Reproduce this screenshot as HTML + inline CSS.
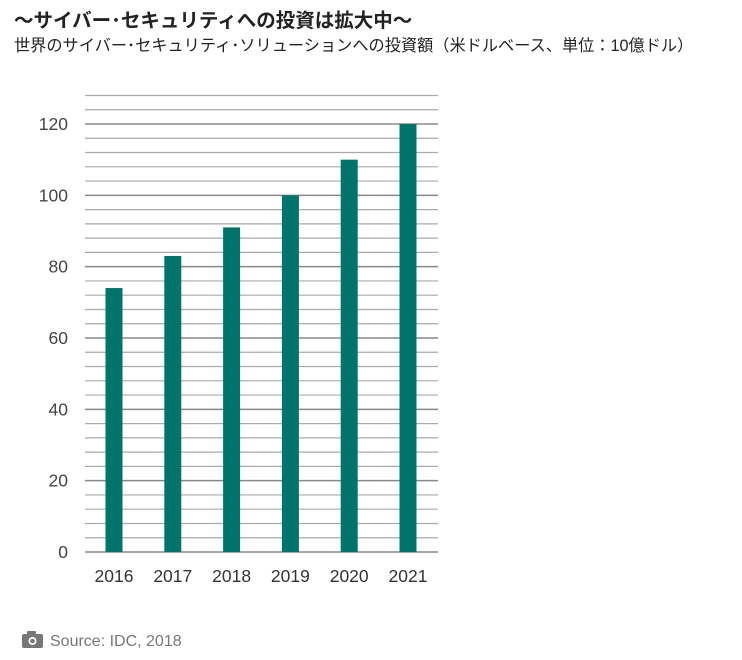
<!DOCTYPE html>
<html><head><meta charset="utf-8">
<style>
body{margin:0;width:742px;height:660px;background:#fff;overflow:hidden;font-family:"Liberation Sans","Noto Sans CJK JP",sans-serif;}
.t1{position:absolute;left:14px;top:4px;font-size:19.5px;font-weight:bold;color:#222;}
.t2{position:absolute;left:14px;top:32px;font-size:16.2px;color:#222;}
.src{position:absolute;left:22px;top:631px;font-size:16px;color:#777;}
</style></head><body>
<div class="t1">～サイバー･セキュリティへの投資は拡大中～</div>
<div class="t2">世界のサイバー･セキュリティ･ソリューションへの投資額（米ドルベース、単位：10億ドル）</div>
<svg id="c" width="742" height="660" style="position:absolute;left:0;top:0"></svg>
<div class="src"><svg width="22" height="17" style="vertical-align:-2px;margin-right:6px"><rect x="0" y="3" width="21" height="14" rx="2" fill="#777"/><rect x="5" y="0" width="9" height="5" rx="1" fill="#777"/><circle cx="10.5" cy="10" r="4" fill="#fff"/><circle cx="10.5" cy="10" r="2.3" fill="#777"/></svg>Source: IDC, 2018</div>
<script>
const categories=["2016","2017","2018","2019","2020","2021"];
const values=[74,83,91,100,110,120];
const yTicks=[0,20,40,60,80,100,120];
const svg=document.getElementById('c');
const NS='http://www.w3.org/2000/svg';
const x0=85,x1=438,yBase=552,pxPer=428/120;
const y=v=>yBase-v*pxPer;
const xc=i=>114+i*58.8;
function mk(t,a){const e=document.createElementNS(NS,t);for(const k in a)e.setAttribute(k,a[k]);svg.appendChild(e);return e;}
for(let v=0;v<=128;v+=4){
 const major=v%20===0;
 const l=mk('line',{x1:x0,x2:x1,y1:y(v),y2:y(v),stroke:major?'#888':'#aaa','stroke-width':major?1.5:1.2});
 
 
}
yTicks.forEach(v=>{
 const t=mk('text',{x:68,y:y(v)+6,'text-anchor':'end','font-size':17.5,fill:'#444','font-family':'Liberation Sans, sans-serif'});
 t.textContent=v;
 
 
});
categories.forEach((c,i)=>{
 const b=mk('rect',{x:xc(i)-8.5,y:y(values[i]),width:17,height:values[i]*pxPer,fill:'#00746b'});
 
 
 const t=mk('text',{x:xc(i),y:582,'text-anchor':'middle','font-size':17.5,fill:'#333','font-family':'Liberation Sans, sans-serif'});
 t.textContent=c;
 
 
});
</script>
</body></html>
